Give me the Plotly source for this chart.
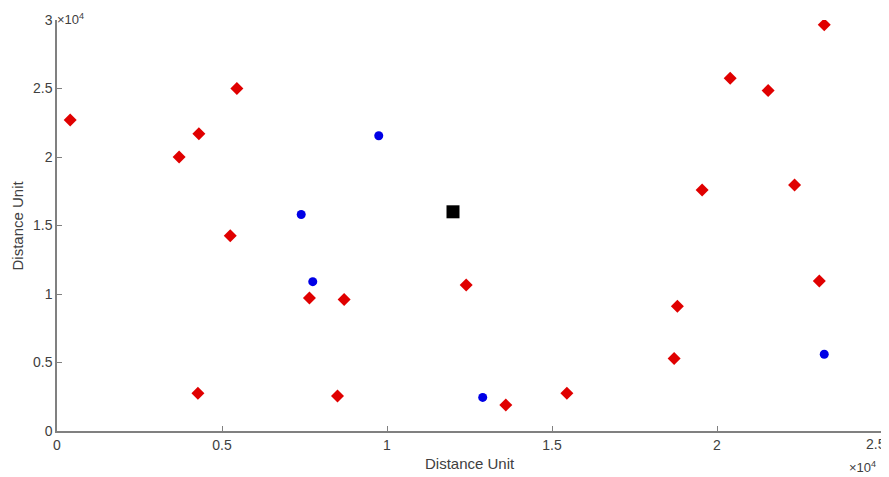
import plotly.graph_objects as go

# Red diamonds (x, y in distance units)
red_x = [400, 3700, 4300, 5450, 5250, 4270, 7650, 8700, 8500, 12400,
         13600, 15450, 18700, 18800, 19550, 20400, 21550, 22350, 23100, 23250]
red_y = [22700, 20000, 21700, 25000, 14250, 2750, 9700, 9600, 2550, 10650,
         1900, 2750, 5300, 9100, 17600, 25750, 24850, 17950, 10950, 29650]

# Blue circles
blue_x = [9750, 7400, 7750, 12900, 23250]
blue_y = [21550, 15800, 10900, 2450, 5600]

# Black square
black_x = [12000]
black_y = [16000]

x_tickvals = [0, 5000, 10000, 15000, 20000, 25000]
x_ticktext = ["0", "0.5", "1", "1.5", "2", "2.5"]
y_tickvals = [0, 5000, 10000, 15000, 20000, 25000, 30000]
y_ticktext = ["0", "0.5", "1", "1.5", "2", "2.5", "3"]

fig = go.Figure()
fig.add_trace(go.Scatter(x=red_x, y=red_y, mode="markers",
                         marker=dict(symbol="diamond", size=10, color="#e00000"),
                         showlegend=False))
fig.add_trace(go.Scatter(x=blue_x, y=blue_y, mode="markers",
                         marker=dict(symbol="circle", size=9, color="#0000e6"),
                         showlegend=False))
fig.add_trace(go.Scatter(x=black_x, y=black_y, mode="markers",
                         marker=dict(symbol="square", size=13, color="black"),
                         showlegend=False))

axis_color = "#808080"
text_color = "#404040"

# last x tick label sits at the figure's right edge; draw it as an annotation
shown_x_ticktext = x_ticktext[:-1] + [""]

annotations = [
    dict(text=x_ticktext[-1], x=x_tickvals[-1], y=0, xref="x", yref="paper",
         xanchor="right", yanchor="top", showarrow=False, xshift=6, yshift=-3,
         font=dict(size=14, color=text_color)),
    dict(text="Distance Unit", x=0.5, y=0, xref="paper", yref="paper",
         xanchor="center", yanchor="top", showarrow=False, yshift=-22,
         font=dict(size=15, color=text_color)),
    dict(text="Distance Unit", x=0, y=0.5, xref="paper", yref="paper",
         xanchor="center", yanchor="middle", showarrow=False, xshift=-40,
         textangle=-90, font=dict(size=15, color=text_color)),
    dict(text="×10<sup>4</sup>", x=0, y=1, xref="paper", yref="paper",
         xanchor="left", yanchor="bottom", showarrow=False, xshift=-2, yshift=-9,
         font=dict(size=13, color=text_color)),
    dict(text="×10<sup>4</sup>", x=1, y=0, xref="paper", yref="paper",
         xanchor="right", yanchor="top", showarrow=False, xshift=-4, yshift=-26,
         font=dict(size=13, color=text_color)),
]

fig.update_layout(
    width=881, height=469,
    margin=dict(l=49, r=7, t=12, b=46),
    plot_bgcolor="white", paper_bgcolor="white",
    font=dict(family="Liberation Sans, Arial", size=14, color=text_color),
    xaxis=dict(range=[0, 25000], tickvals=x_tickvals, ticktext=shown_x_ticktext,
               showgrid=False, zeroline=False, showline=True, linecolor=axis_color,
               linewidth=1.5, ticks="inside", ticklen=5, tickcolor=axis_color,
               automargin=False, tickfont=dict(size=14), fixedrange=True),
    yaxis=dict(range=[0, 30000], tickvals=y_tickvals, ticktext=y_ticktext,
               showgrid=False, zeroline=False, showline=True, linecolor=axis_color,
               linewidth=1.5, ticks="inside", ticklen=5, tickcolor=axis_color,
               automargin=False, tickfont=dict(size=14), fixedrange=True),
    annotations=annotations,
)

fig.write_html("out.html")
